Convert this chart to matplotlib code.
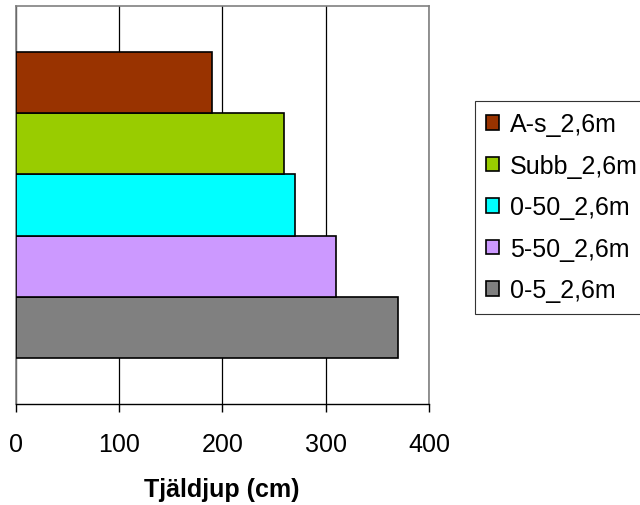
import matplotlib
matplotlib.use('Agg')
import matplotlib.pyplot as plt

plt.rcParams['font.family'] = ['Liberation Sans', 'DejaVu Sans']

series = ["0-5_2,6m", "5-50_2,6m", "0-50_2,6m", "Subb_2,6m", "A-s_2,6m"]
depths = [370, 310, 270, 260, 190]
colors = ["#808080", "#CC99FF", "#00FFFF", "#99CC00", "#993300"]
xticks = [0, 100, 200, 300, 400]

fig = plt.figure(figsize=(6.4, 5.06), dpi=100)
ax = fig.add_axes([15.5 / 640, 1 - 405 / 506, (429 - 15.5) / 640, (405 - 7) / 506])

handles = []
for i, (name, d, c) in enumerate(zip(series, depths, colors)):
    b = ax.barh(i, d, height=1.0, color=c, edgecolor='black', linewidth=1.2,
                label=name, zorder=3)
    handles.append(b)

ax.set_xlim(0, 400)
ax.set_ylim(-1.25, 5.25)
ax.set_xticks(xticks)
ax.set_xticklabels([str(t) for t in xticks], fontsize=18)
ax.set_yticks([])
ax.tick_params(axis='x', direction='out', length=6, width=1, color='black', pad=14.5)
ax.xaxis.grid(True, color='black', linewidth=0.9, zorder=0)
ax.set_axisbelow(True)

for side in ['left', 'top', 'right']:
    ax.spines[side].set_color('#808080')
    ax.spines[side].set_linewidth(1.2)
ax.spines['bottom'].set_color('black')
ax.spines['bottom'].set_linewidth(1.0)

ax.set_xlabel("Tjäldjup (cm)", fontsize=18, fontweight='bold', labelpad=15)

leg = fig.legend(handles[::-1], series[::-1], loc='upper left',
                 bbox_to_anchor=(475 / 640, 1 - 102 / 506), borderaxespad=0,
                 fontsize=18, frameon=True, fancybox=False, framealpha=1,
                 edgecolor='#333333', handlelength=0.5, handleheight=0.5,
                 handletextpad=0.45, labelspacing=0.7, borderpad=0.45)
leg.get_frame().set_linewidth(0.8)
for h in leg.legend_handles:
    h.set_linewidth(1.2)

fig.savefig('out.png', dpi=100)
